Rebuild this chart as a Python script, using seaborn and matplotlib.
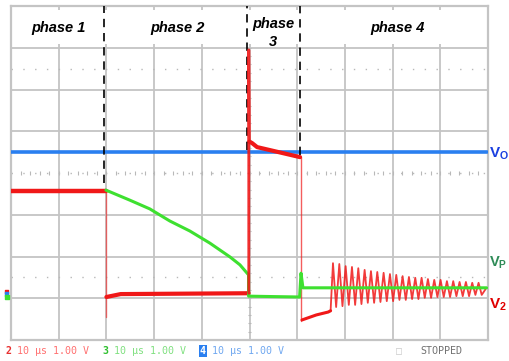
import numpy as np
import pandas as pd
import seaborn as sns
import matplotlib
matplotlib.use("Agg")
import matplotlib.pyplot as plt
from matplotlib.patches import Rectangle

# ---------------- data (time in divisions, voltage in divisions) ----------------
blue_t = [0.0, 9.98]
blue_v = [4.50, 4.50]

red1_t = [0.0, 2.00]
red1_v = [3.57, 3.57]
red2_t = [2.00, 2.30, 4.98]
red2_v = [1.03, 1.10, 1.12]
spike_t = [4.985, 4.985, 4.995]
spike_v = [1.12, 6.95, 4.75]
red3_t = [4.995, 5.05, 5.16, 6.06]
red3_v = [4.75, 4.72, 4.62, 4.38]
red4_t = [6.10, 6.40, 6.65, 6.70]
red4_v = [0.48, 0.60, 0.67, 0.70]
edge1_t = [2.00, 2.00]
edge1_v = [3.57, 0.55]
edge2_t = [6.08, 6.08]
edge2_v = [4.38, 0.45]

osc_start = 6.75
osc_period = 0.1327
osc_tops = [1.84, 1.82, 1.77, 1.75, 1.72, 1.68, 1.65, 1.63, 1.61, 1.58, 1.56, 1.53,
            1.51, 1.49, 1.49, 1.46, 1.44, 1.44, 1.41, 1.41, 1.39, 1.39, 1.37, 1.37]
osc_bottoms = [0.79, 0.81, 0.84, 0.84, 0.86, 0.89, 0.89, 0.91, 0.93, 0.93, 0.96, 0.96,
               0.98, 0.98, 1.01, 1.01, 1.03, 1.03, 1.03, 1.05, 1.05, 1.05, 1.08, 1.08]

green_t = [1.99, 2.49, 2.91, 3.33, 3.75, 4.17, 4.59, 4.80, 4.98, 4.98, 5.50, 6.05, 6.08, 6.12, 6.20, 9.97]
green_v = [3.59, 3.35, 3.14, 2.85, 2.61, 2.32, 1.99, 1.80, 1.56, 1.05, 1.04, 1.03, 1.60, 1.25, 1.25, 1.25]

phase_labels = ["phase 1", "phase 2", "phase 4"]
phase_centers = [1.0, 3.5, 8.1]
phase3_label = ["phase", "3"]
phase3_center = 5.5
phase_bounds = [1.95, 4.95, 6.06]
phase_bound_bottoms = [3.76, 4.55, 4.43]

C_RED = "#f01818"
C_GREEN = "#3ee030"
C_BLUE = "#2a7ff0"

# ---------------- figure ----------------
sns.set_theme(style="white")
plt.rcParams["font.family"] = ["Liberation Sans", "DejaVu Sans"]
plt.rcParams["mathtext.fontset"] = "custom"
plt.rcParams["mathtext.rm"] = "Liberation Sans"
plt.rcParams["mathtext.bf"] = "Liberation Sans:bold"

fig = plt.figure(figsize=(5.09, 3.61), dpi=100)
fig.patch.set_facecolor("white")
ax = fig.add_axes([11 / 509, 21 / 361, 477 / 509, 334 / 361])
ax.set_xlim(0, 10)
ax.set_ylim(0, 8)
ax.set_xticks([])
ax.set_yticks([])
for s in ax.spines.values():
    s.set_color("#c4c4c4")
    s.set_linewidth(1.6)

GRID = "#c4c4c4"
for x in range(1, 10):
    ax.axvline(x, color=GRID, lw=1.3, zorder=0)
for y in [1, 2, 3, 5, 6, 7]:
    ax.axhline(y, color=GRID, lw=1.3, zorder=0)
for y in [1.5, 4.0, 6.5]:
    ax.axhline(y, color="#b8b8b8", lw=1.0, ls=(0, (1, 7.5)), zorder=0)
# graticule ticks on centre lines
tk = np.arange(0, 10.01, 0.2)
ax.vlines(tk, 3.95, 4.05, color="#b8b8b8", lw=0.8, zorder=0)
tky = np.arange(0, 8.01, 0.2)
ax.hlines(tky, 4.96, 5.04, color="#b8b8b8", lw=0.8, zorder=0)

# header box
ax.add_patch(Rectangle((0.02, 7.09), 9.96, 0.81, facecolor="white", edgecolor="none", zorder=1))

# ---------------- traces ----------------
def line(t, v, color, lw, alpha=1.0, z=3):
    sns.lineplot(x=t, y=v, sort=False, estimator=None, ax=ax, color=color,
                 linewidth=lw, alpha=alpha, zorder=z, legend=False)

line(blue_t, blue_v, C_BLUE, 2.6)
line(edge1_t, edge1_v, C_RED, 1.0, 0.6)
line(edge2_t, edge2_v, C_RED, 1.0, 0.7)
line(green_t, green_v, C_GREEN, 2.2, z=3.2)
line(red1_t, red1_v, C_RED, 3.2)
line(red2_t, red2_v, C_RED, 3.0)
line(spike_t, spike_v, C_RED, 2.0, 0.9, z=5.5)
line(red3_t, red3_v, C_RED, 3.0)
line(red4_t, red4_v, C_RED, 2.2)

osc_t = [red4_t[-1]]
osc_v = [red4_v[-1]]
for i, (tp, bt) in enumerate(zip(osc_tops, osc_bottoms)):
    osc_t += [osc_start + i * osc_period, osc_start + (i + 0.5) * osc_period]
    osc_v += [tp, bt]
osc_t.append(9.95)
osc_v.append(1.22)
line(osc_t, osc_v, C_RED, 1.3, 0.85, z=3.1)

# phase boundaries
for xb, yb in zip(phase_bounds, phase_bound_bottoms):
    ax.plot([xb, xb], [yb, 8.0], color="black", lw=1.2, ls=(0, (5, 3.5)), zorder=5)

lab_kw = dict(ha="center", va="center", fontsize=10.5, fontweight="bold",
              fontstyle="italic", color="black", zorder=6)
for lab, xc in zip(phase_labels, phase_centers):
    ax.text(xc, 7.47, lab, **lab_kw)
ax.text(phase3_center, 7.58, phase3_label[0], **lab_kw)
ax.text(phase3_center, 7.14, phase3_label[1], **lab_kw)

# channel ground markers
ax.scatter([-0.09, -0.09, -0.08], [1.16, 1.10, 1.03], marker="s", s=6,
           c=[C_RED, C_BLUE, C_GREEN], clip_on=False, zorder=6)

# right labels
ax.text(10.02, 4.45, r"$\mathbf{V_O}$", color="#1a3fe0", fontsize=11, ha="left", va="center")
ax.text(10.02, 1.86, r"$\mathbf{V_P}$", color="#2e8b57", fontsize=10.5, ha="left", va="center")
ax.text(10.02, 0.84, r"$\mathbf{V_2}$", color="#e00000", fontsize=11, ha="left", va="center")

# bottom status line
yb = 1 - 351 / 361
mono = dict(family="DejaVu Sans Mono", fontsize=7.2, va="center")
fig.text(5 / 509, yb, "2", color="#e83030", fontweight="bold", **mono)
fig.text(17 / 509, yb, "10 \u03bcs 1.00 V", color="#ff7070", **mono)
fig.text(102 / 509, yb, "3", color="#30c030", fontweight="bold", **mono)
fig.text(114 / 509, yb, "10 \u03bcs 1.00 V", color="#80e080", **mono)
fig.text(200 / 509, yb, "4", color="white", fontweight="bold",
         bbox=dict(boxstyle="square,pad=0.08", facecolor="#2a7ff0", edgecolor="none"), **mono)
fig.text(212 / 509, yb, "10 \u03bcs 1.00 V", color="#70a8f0", **mono)
fig.text(396 / 509, yb, "\u25a1", color="#c8c8c8", **mono)
fig.text(420 / 509, yb, "STOPPED", color="#707070", **mono)

fig.savefig("out.png", dpi=100, facecolor="white")
